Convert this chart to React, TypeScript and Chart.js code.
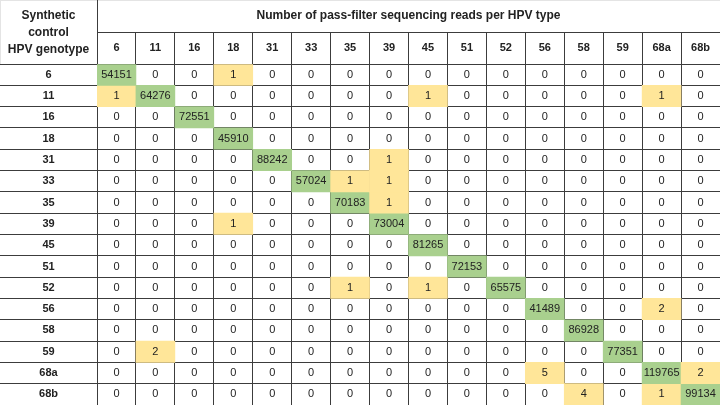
import React, { useEffect, useRef } from "react";
import { Chart, registerables } from "chart.js";

Chart.register(...registerables);

const COLUMN_TYPES = ["6", "11", "16", "18", "31", "33", "35", "39", "45", "51", "52", "56", "58", "59", "68a", "68b"];
const ROW_GENOTYPES = ["6", "11", "16", "18", "31", "33", "35", "39", "45", "51", "52", "56", "58", "59", "68a", "68b"];

const row6 = [54151, 0, 0, 1, 0, 0, 0, 0, 0, 0, 0, 0, 0, 0, 0, 0];
const row11 = [1, 64276, 0, 0, 0, 0, 0, 0, 1, 0, 0, 0, 0, 0, 1, 0];
const row16 = [0, 0, 72551, 0, 0, 0, 0, 0, 0, 0, 0, 0, 0, 0, 0, 0];
const row18 = [0, 0, 0, 45910, 0, 0, 0, 0, 0, 0, 0, 0, 0, 0, 0, 0];
const row31 = [0, 0, 0, 0, 88242, 0, 0, 1, 0, 0, 0, 0, 0, 0, 0, 0];
const row33 = [0, 0, 0, 0, 0, 57024, 1, 1, 0, 0, 0, 0, 0, 0, 0, 0];
const row35 = [0, 0, 0, 0, 0, 0, 70183, 1, 0, 0, 0, 0, 0, 0, 0, 0];
const row39 = [0, 0, 0, 1, 0, 0, 0, 73004, 0, 0, 0, 0, 0, 0, 0, 0];
const row45 = [0, 0, 0, 0, 0, 0, 0, 0, 81265, 0, 0, 0, 0, 0, 0, 0];
const row51 = [0, 0, 0, 0, 0, 0, 0, 0, 0, 72153, 0, 0, 0, 0, 0, 0];
const row52 = [0, 0, 0, 0, 0, 0, 1, 0, 1, 0, 65575, 0, 0, 0, 0, 0];
const row56 = [0, 0, 0, 0, 0, 0, 0, 0, 0, 0, 0, 41489, 0, 0, 2, 0];
const row58 = [0, 0, 0, 0, 0, 0, 0, 0, 0, 0, 0, 0, 86928, 0, 0, 0];
const row59 = [0, 2, 0, 0, 0, 0, 0, 0, 0, 0, 0, 0, 0, 77351, 0, 0];
const row68a = [0, 0, 0, 0, 0, 0, 0, 0, 0, 0, 0, 5, 0, 0, 119765, 2];
const row68b = [0, 0, 0, 0, 0, 0, 0, 0, 0, 0, 0, 0, 4, 0, 1, 99134];

const READS = [row6, row11, row16, row18, row31, row33, row35, row39, row45, row51, row52, row56, row58, row59, row68a, row68b];

const TITLE = "Number of pass-filter sequencing reads per HPV type";
const CORNER_LINES = ["Synthetic", "control", "HPV genotype"];

const GREEN = "#a9d08e";
const YELLOW = "#ffe699";
const LINE = "#3c3c3c";
const TEXT = "#222222";
const FONT = "'Liberation Sans', Arial, sans-serif";

const tablePlugin = {
  id: "tableText",
  afterDraw(chart: any) {
    const { ctx, chartArea, scales } = chart;
    const x = scales.x;
    const y = scales.y;
    ctx.save();
    // faint outer border
    ctx.strokeStyle = "#e4e4e4";
    ctx.lineWidth = 1;
    ctx.beginPath();
    ctx.moveTo(0, 0.5);
    ctx.lineTo(chart.width, 0.5);
    ctx.moveTo(0.5, 0);
    ctx.lineTo(0.5, chartArea.top);
    ctx.stroke();
    // header lines
    ctx.strokeStyle = LINE;
    ctx.beginPath();
    const lx = Math.round(chartArea.left) + 0.5;
    ctx.moveTo(lx, 0);
    ctx.lineTo(lx, chartArea.top);
    const hy = Math.round(chartArea.top / 2) + 0.5;
    ctx.moveTo(chartArea.left, hy);
    ctx.lineTo(chartArea.right, hy);
    ctx.stroke();

    ctx.fillStyle = TEXT;
    ctx.textAlign = "center";
    ctx.textBaseline = "middle";
    // title
    ctx.font = `bold 12px ${FONT}`;
    ctx.fillText(TITLE, (chartArea.left + chartArea.right) / 2, chartArea.top / 4);
    // corner header
    CORNER_LINES.forEach((t, i) => {
      ctx.fillText(t, chartArea.left / 2, 16 + i * 17);
    });
    // column labels
    ctx.font = `bold 11px ${FONT}`;
    COLUMN_TYPES.forEach((c, i) => {
      ctx.fillText(c, x.getPixelForValue(i), (chartArea.top * 3) / 4);
    });
    // row labels
    ROW_GENOTYPES.forEach((r, i) => {
      ctx.fillText(r, chartArea.left / 2, y.getPixelForValue(i + 0.5));
    });
    // cell values
    ctx.font = `11px ${FONT}`;
    READS.forEach((row, r) => {
      row.forEach((v, c) => {
        ctx.fillText(String(v), x.getPixelForValue(c), y.getPixelForValue(r + 0.5));
      });
    });
    ctx.restore();
  },
};

export default function App() {
  const ref = useRef<HTMLCanvasElement>(null);
  useEffect(() => {
    if (!ref.current) return;
    const datasets = READS.map((row, r) => ({
      label: ROW_GENOTYPES[r],
      data: row.map((v) => (v > 0 ? [r, r + 1] : null)),
      backgroundColor: (c: any) => (c.dataIndex === r ? GREEN : YELLOW),
      borderWidth: 0,
      borderSkipped: false,
      grouped: false,
      barPercentage: 1,
      categoryPercentage: 1,
    }));
    const chart = new Chart(ref.current, {
      type: "bar",
      data: { labels: COLUMN_TYPES, datasets: datasets as any },
      options: {
        responsive: false,
        animation: false,
        events: [],
        layout: { padding: 0 },
        plugins: { legend: { display: false }, tooltip: { enabled: false } },
        scales: {
          x: {
            type: "category",
            position: "top",
            offset: true,
            z: 1,
            grid: {
              offset: true,
              drawTicks: true,
              tickLength: 32,
              color: (c: any) => (c.index === undefined ? "transparent" : LINE),
            },
            border: { display: false },
            ticks: { display: false },
            afterFit: (s: any) => {
              s.height = 64;
            },
          },
          y: {
            type: "linear",
            reverse: true,
            min: 0,
            max: 16,
            z: 1,
            grid: {
              drawTicks: true,
              tickLength: 97,
              color: (c: any) => (c.tick && c.tick.value === 16 ? "transparent" : LINE),
            },
            border: { display: false },
            ticks: { display: false, stepSize: 1, autoSkip: false, maxTicksLimit: 100 },
            afterFit: (s: any) => {
              s.width = 97;
            },
          },
        },
      },
      plugins: [tablePlugin],
    });
    return () => chart.destroy();
  }, []);
  return (
    <div style={{ position: "fixed", left: 0, top: 0, width: 720, height: 405, background: "#fff" }}>
      <canvas ref={ref} width={720} height={405} />
    </div>
  );
}
